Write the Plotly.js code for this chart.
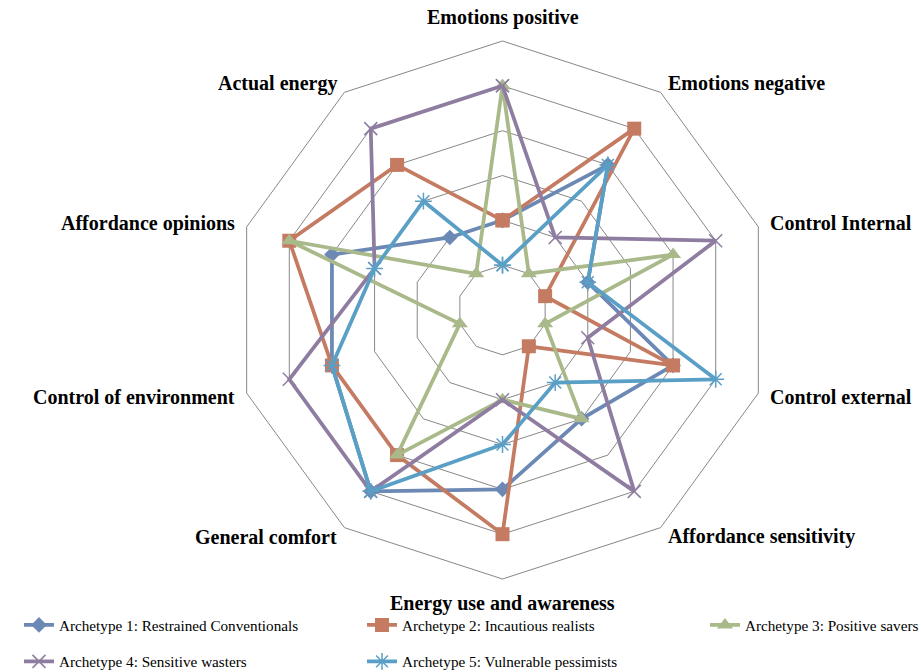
<!DOCTYPE html>
<html>
<head>
<meta charset="utf-8">
<script src="https://cdn.plot.ly/plotly-3.0.1.min.js"></script>
<style>html,body{margin:0;padding:0;background:#fff;}#chart{width:921px;height:672px;}</style>
</head>
<body>
<div id="chart"></div>
<script>
const categories = ['Emotions positive','Emotions negative','Control Internal','Control external','Affordance sensitivity','Energy use and awareness','General comfort','Control of environment','Affordance opinions','Actual energy'];
const seriesNames = ['Archetype 1: Restrained Conventionals','Archetype 2: Incautious realists','Archetype 3: Positive savers','Archetype 4: Sensitive wasters','Archetype 5: Vulnerable pessimists'];
const archetype1 = [2,4,2,4,3,4,5,4,4,2];
const archetype2 = [2,5,1,4,1,5,4,4,5,4];
const archetype3 = [5,1,4,1,3,2,4,1,5,1];
const archetype4 = [5,2,5,2,5,2,5,5,3,5];
const archetype5 = [1,4,2,5,2,3,5,4,3,3];

const values = [archetype1, archetype2, archetype3, archetype4, archetype5];
const colors = ['#6C88B4','#C47B62','#A9B98A','#8E7DA1','#5A9FC6'];
const symbols = ['diamond','square','triangle-up','x-thin-open','asterisk-open'];
const sizes = [12,14,14,13,14];
const legendOf = ['legend','legend','legend','legend2','legend2'];
const legendWidths = [298,298,185,298,260];
const serif = '"Liberation Serif","Times New Roman",serif';

const closed = a => a.concat([a[0]]);
const traces = values.map((v,i) => ({
  type: 'scatterpolar',
  r: closed(v),
  theta: closed(categories),
  name: seriesNames[i],
  mode: 'lines+markers',
  line: {color: colors[i], width: 3.75},
  marker: {symbol: symbols[i], size: sizes[i], color: colors[i],
           line: {color: colors[i], width: (i >= 3 ? 1.5 : 0)}},
  legend: legendOf[i],
  legendwidth: legendWidths[i],
  hoverinfo: 'skip'
}));

const W = 921, H = 672;
const cx = 502.5, cy = 310, R = 269;
const labelGap = 11.5;

// category labels placed just outside each vertex of the outer ring
const annotations = categories.map((c, i) => {
  const a = (90 - 36 * i) * Math.PI / 180;
  const cs = Math.cos(a), sn = Math.sin(a);
  const px = cx + (R + labelGap) * cs;
  const py = cy - (R + labelGap) * sn;
  return {
    text: '<b>' + c + '</b>', showarrow: false,
    xref: 'paper', yref: 'paper', x: px / W, y: 1 - py / H,
    xanchor: Math.abs(cs) < 0.01 ? 'center' : (cs > 0 ? 'left' : 'right'),
    yanchor: Math.abs(cs) < 0.01 ? (sn > 0 ? 'bottom' : 'top') : 'middle',
    borderpad: 0,
    font: {family: serif, size: 20, color: '#000'}
  };
});

const layout = {
  width: W, height: H,
  margin: {l:0, r:0, t:0, b:0, pad:0, autoexpand: false},
  paper_bgcolor: '#ffffff',
  font: {family: serif, color: '#000'},
  showlegend: true,
  polar: {
    domain: {x: [(cx-R)/W, (cx+R)/W], y: [(H-(cy+R))/H, (H-(cy-R))/H]},
    bgcolor: 'rgba(0,0,0,0)',
    gridshape: 'linear',
    radialaxis: {range: [0,6], tick0: 0, dtick: 1, showticklabels: false, ticks: '',
                 showline: false, gridcolor: '#878787', gridwidth: 1},
    angularaxis: {rotation: 90, direction: 'clockwise', showgrid: false, showline: true,
                  linecolor: '#878787', linewidth: 1, ticks: '', showticklabels: false}
  },
  annotations: annotations,
  legend: {orientation: 'h', x: 19/W, xanchor: 'left', y: 1-625/H, yanchor: 'middle',
           font: {family: serif, size: 15.2, color: '#000'}, bgcolor: 'rgba(0,0,0,0)',
           traceorder: 'normal'},
  legend2: {orientation: 'h', x: 19/W, xanchor: 'left', y: 1-661.5/H, yanchor: 'middle',
           font: {family: serif, size: 15.2, color: '#000'}, bgcolor: 'rgba(0,0,0,0)',
           traceorder: 'normal'}
};

Plotly.newPlot('chart', traces, layout, {displayModeBar: false, staticPlot: true});
</script>
</body>
</html>
